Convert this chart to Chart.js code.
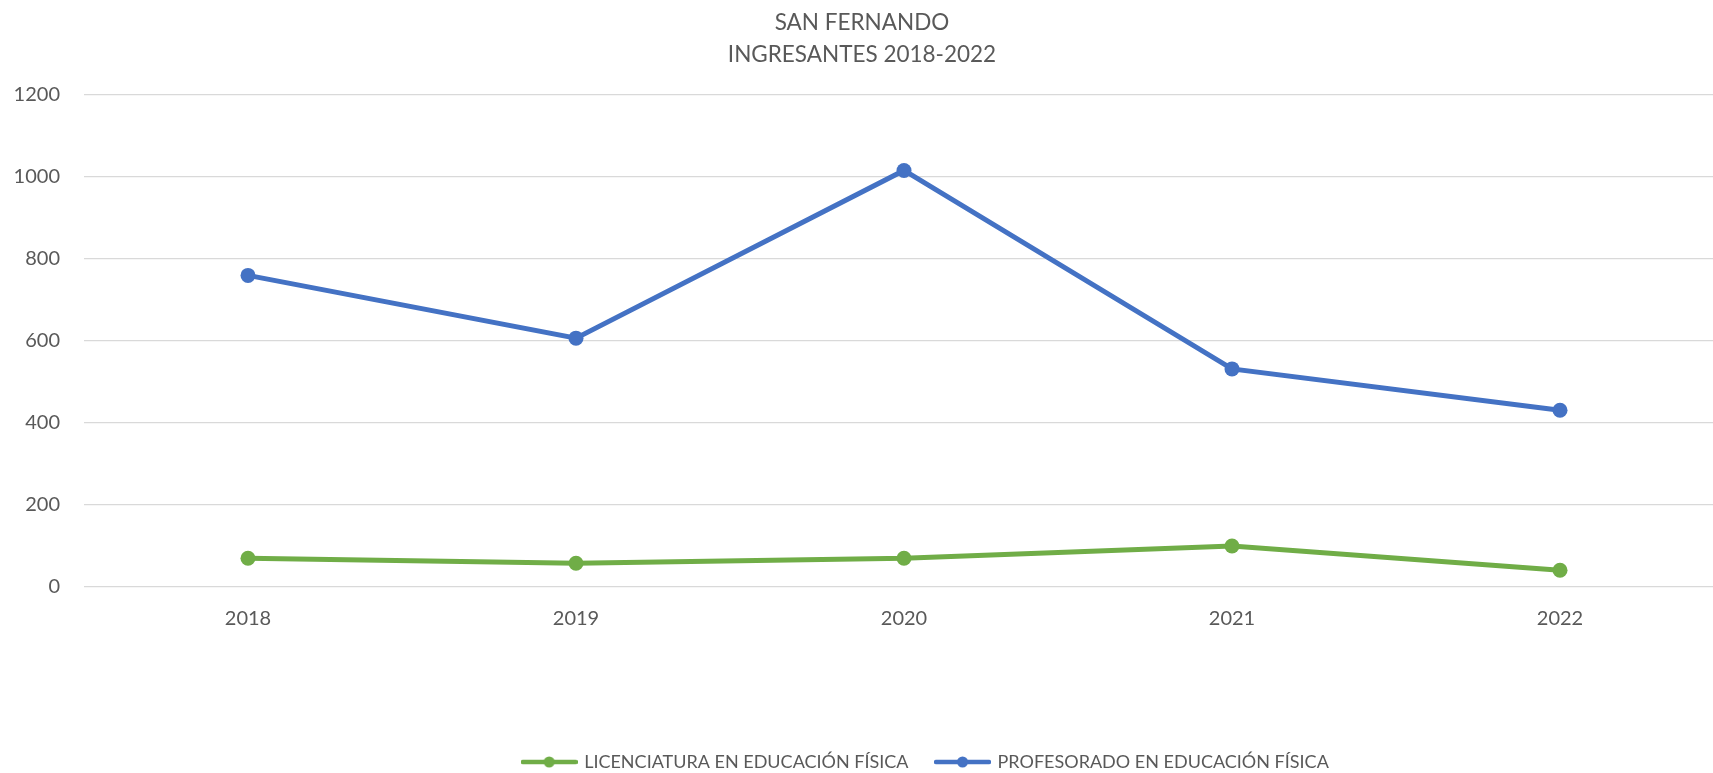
<!DOCTYPE html>
<html>
<head>
<meta charset="utf-8">
<script src="https://cdn.jsdelivr.net/npm/chart.js@4.4.1/dist/chart.umd.min.js"></script>
<style>
  html, body { margin: 0; padding: 0; background: #fff; overflow: hidden; }
  #wrap { position: relative; width: 1774px; height: 781px; }
</style>
</head>
<body>
<div id="wrap"><canvas id="chart-line"></canvas></div>
<script>
const years = ['2018', '2019', '2020', '2021', '2022'];
const licenciatura = [70, 58, 70, 100, 41];
const profesorado = [760, 607, 1016, 532, 431];
const yTicks = [0, 200, 400, 600, 800, 1000, 1200];

document.addEventListener('DOMContentLoaded', function () {
    const FONT = 'Lato';
    const TEXT = '#595959';
    const GREEN = '#70AD47';
    const BLUE = '#4472C4';

    // legend marker: line with a dot in the middle
    function legendMarker(color) {
        const c = document.createElement('canvas');
        c.width = 57;
        c.height = 14;
        const g = c.getContext('2d');
        g.strokeStyle = color;
        g.lineWidth = 4.5;
        g.lineCap = 'round';
        g.beginPath();
        g.moveTo(2, 7);
        g.lineTo(55, 7);
        g.stroke();
        g.fillStyle = color;
        g.beginPath();
        g.arc(28.5, 7, 5.5, 0, Math.PI * 2);
        g.fill();
        return c;
    }
    const markers = [legendMarker(GREEN), legendMarker(BLUE)];

    const chartData = {
        labels: years,
        datasets: [{
            label: 'LICENCIATURA EN EDUCACIÓN FÍSICA',
            data: licenciatura,
            borderColor: GREEN,
            backgroundColor: GREEN,
            borderWidth: 5,
            pointRadius: 7.5,
            pointHoverRadius: 7.5,
            pointBorderWidth: 0,
            tension: 0
        }, {
            label: 'PROFESORADO EN EDUCACIÓN FÍSICA',
            data: profesorado,
            borderColor: BLUE,
            backgroundColor: BLUE,
            borderWidth: 5,
            pointRadius: 7.5,
            pointHoverRadius: 7.5,
            pointBorderWidth: 0,
            tension: 0
        }]
    };

    // shift the legend to where the original has it
    const legendShift = {
        id: 'legendShift',
        afterLayout(chart) {
            chart.legend.left += 22;
            chart.legend.right += 22;
        }
    };

    const options = {
        responsive: true,
        maintainAspectRatio: false,
        animation: false,
        layout: { padding: { left: 0, right: 50, top: 0, bottom: 0 } },
        plugins: {
            title: {
                display: true,
                text: ['SAN FERNANDO', 'INGRESANTES 2018-2022'],
                color: TEXT,
                font: { family: FONT, size: 22.5, weight: 'normal', lineHeight: 32 / 22.5 },
                padding: { top: 6.5, bottom: 24.5 }
            },
            legend: {
                display: true,
                position: 'bottom',
                fullSize: false,
                labels: {
                    usePointStyle: true,
                    pointStyleWidth: 52,
                    padding: 28,
                    color: TEXT,
                    font: { family: FONT, size: 18 },
                    generateLabels(chart) {
                        const items = Chart.defaults.plugins.legend.labels.generateLabels(chart);
                        items.forEach((it, i) => { it.pointStyle = markers[i]; });
                        return items;
                    }
                }
            },
            tooltip: { enabled: false }
        },
        scales: {
            x: {
                offset: true,
                grid: { display: false, drawTicks: false },
                border: { display: false },
                ticks: { color: TEXT, padding: 20, font: { family: FONT, size: 20 } },
                afterFit(scale) { scale.height = 138; }
            },
            y: {
                min: 0,
                max: 1200,
                afterBuildTicks(scale) { scale.ticks = yTicks.map(v => ({ value: v })); },
                grid: { color: '#d9d9d9', lineWidth: 1.3, drawTicks: false },
                border: { display: false },
                ticks: {
                    color: TEXT,
                    padding: 24,
                    font: { family: FONT, size: 20 },
                    callback: value => String(value)
                },
                afterFit(scale) { scale.width = 84; }
            }
        }
    };

    const ctx = document.getElementById('chart-line').getContext('2d');
    new Chart(ctx, {
        type: 'line',
        data: chartData,
        options: options,
        plugins: [legendShift]
    });
});
</script>
</body>
</html>
